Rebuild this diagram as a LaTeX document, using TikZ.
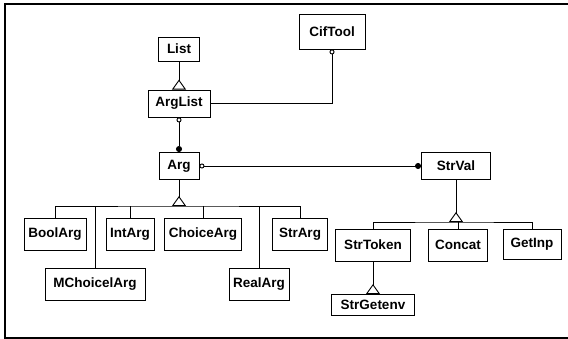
\documentclass[tikz,border=0pt]{standalone}
\usepackage{fontspec}
\setmainfont{Liberation Sans}
\usetikzlibrary{arrows.meta,calc}

\begin{document}
\begin{tikzpicture}[x=1pt, y=-1pt, line width=0.9pt,
    cls/.style={draw, inner sep=0pt, font=\fontsize{13.5}{15}\selectfont\bfseries},
    inh/.style={-{Triangle[open,reversed,length=10pt,width=14pt]}},
    agg/.style={{Circle[open,length=5pt]}-{Circle[length=6pt]}}]
    \useasboundingbox (0,0) rectangle (568,339);
    \draw[line width=1.6pt] (568,4) -- (5,4) -- (5,338) -- (568,338);
    % classes
    \node[cls, minimum width=41pt, minimum height=24pt] (List) at (179,49) {List};
    \node[cls, minimum width=62pt, minimum height=27pt] (ArgList) at (179,103.5) {ArgList};
    \node[cls, minimum width=66pt, minimum height=35pt] (CifTool) at (332,31.5) {CifTool};
    \node[cls, minimum width=40pt, minimum height=27pt] (Arg) at (179,166) {Arg};
    \node[cls, minimum width=69pt, minimum height=27pt] (StrVal) at (456,166) {StrVal};
    \node[cls, minimum width=62pt, minimum height=32pt] (BoolArg) at (55,234) {BoolArg};
    \node[cls, minimum width=48pt, minimum height=32pt] (IntArg) at (130,234) {IntArg};
    \node[cls, minimum width=77pt, minimum height=32pt] (ChoiceArg) at (203,234) {ChoiceArg};
    \node[cls, minimum width=55pt, minimum height=32pt] (StrArg) at (300,234) {StrArg};
    \node[cls, minimum width=100pt, minimum height=32pt] (MChoiceArg) at (95,284) {MChoicelArg};
    \node[cls, minimum width=60pt, minimum height=32pt] (RealArg) at (259,284) {RealArg};
    \node[cls, minimum width=75pt, minimum height=32pt] (StrToken) at (373,245) {StrToken};
    \node[cls, minimum width=59pt, minimum height=32pt] (Concat) at (458,245) {Concat};
    \node[cls, minimum width=58pt, minimum height=30pt] (GetInp) at (532,244) {GetInp};
    \node[cls, minimum width=83pt, minimum height=21pt] (StrGetenv) at (373,305) {StrGetenv};
    \coordinate (argbar) at (179,206);
    \coordinate (strbar) at (456,222);
    % inheritance
    \draw[inh] (List.south) -- (ArgList.north);
    \draw[inh] (Arg.south) -- (argbar);
    \draw (BoolArg.north) |- (argbar) -| (StrArg.north);
    \foreach \n in {IntArg,ChoiceArg,MChoiceArg,RealArg}
      \draw (\n.north) -- (\n.north |- argbar);
    \draw[inh] (StrVal.south) -- (strbar);
    \draw (StrToken.north) |- (strbar) -| (GetInp.north);
    \draw (Concat.north) -- (Concat.north |- strbar);
    \draw[inh] (StrToken.south) -- (StrGetenv.north);
    % aggregation
    \draw[agg] (ArgList.south) -- (Arg.north);
    \draw[agg] (Arg.east) -- (StrVal.west);
    \draw[{Circle[open,length=5pt]}-] (CifTool.south) |- (ArgList.east);
\end{tikzpicture}
\end{document}
